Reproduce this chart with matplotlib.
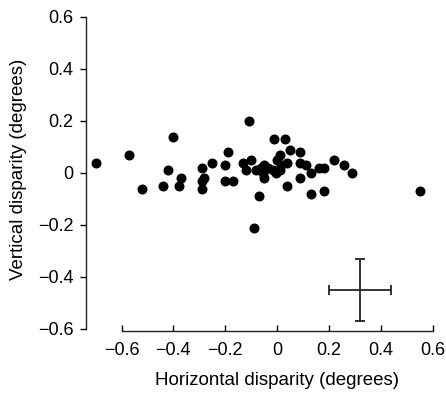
import matplotlib.pyplot as plt
import numpy as np

plt.rcParams['font.family'] = ['Liberation Sans', 'DejaVu Sans']

# disparity of each point (degrees)
horiz = [-0.70, -0.57, -0.52, -0.40, -0.44, -0.42, -0.37, -0.38, -0.29, -0.28,
         -0.29, -0.29, -0.25, -0.20, -0.19, -0.20, -0.17, -0.11, -0.13, -0.10,
         -0.12, -0.08, -0.07, -0.09, -0.06, -0.05, -0.055, -0.05, -0.035, -0.016,
         -0.003, 0.01, 0.015, 0.00, 0.01, -0.01, 0.03, 0.05, 0.04, 0.04,
         0.09, 0.09, 0.11, 0.09, 0.13, 0.13, 0.16, 0.18, 0.18, 0.22,
         0.26, 0.29, 0.55]
vert = [0.04, 0.07, -0.06, 0.14, -0.05, 0.01, -0.02, -0.05, 0.02, -0.02,
        -0.03, -0.06, 0.04, 0.03, 0.08, -0.03, -0.03, 0.20, 0.04, 0.05,
        0.01, 0.01, -0.09, -0.21, 0.02, 0.03, 0.0, -0.02, 0.02, 0.01,
        0.0, 0.01, 0.03, 0.05, 0.07, 0.13, 0.13, 0.09, 0.04, -0.05,
        0.08, 0.04, 0.03, -0.02, 0.0, -0.08, 0.02, 0.02, -0.07, 0.05,
        0.03, 0.0, -0.07]

# representative error (cross in lower right)
err_x, err_y = 0.32, -0.45
err_h, err_v = 0.12, 0.12

ticks = [-0.6, -0.4, -0.2, 0, 0.2, 0.4, 0.6]
tick_labels = ['\u22120.6', '\u22120.4', '\u22120.2', '0', '0.2', '0.4', '0.6']

fig = plt.figure(figsize=(4.46, 3.97), dpi=100)
ax = fig.add_axes([86 / 446, 1 - 331 / 397, 352 / 446, (331 - 11.8) / 397])

ax.plot(horiz, vert, 'o', color='black', markersize=7.2, markeredgewidth=0)
ax.errorbar(err_x, err_y, xerr=err_h, yerr=err_v, fmt='none', ecolor='#222222',
            elinewidth=1.3, capsize=3.6, capthick=1.3)

ax.set_xlim(-0.737, 0.621)
ax.set_ylim(-0.608, 0.62)

for side in ['top', 'right']:
    ax.spines[side].set_visible(False)
ax.spines['left'].set_bounds(-0.6, 0.6)
ax.spines['bottom'].set_bounds(-0.6, 0.6)
for side in ['left', 'bottom']:
    ax.spines[side].set_linewidth(1.0)
    ax.spines[side].set_color('#222222')

ax.set_xticks(ticks)
ax.set_xticklabels(tick_labels)
ax.set_yticks(ticks)
ax.set_yticklabels(tick_labels)
ax.tick_params(axis='x', direction='in', length=4, width=1.0, pad=8, labelsize=13)
ax.tick_params(axis='y', direction='out', length=4, width=1.0, pad=5, labelsize=13)

ax.set_xlabel('Horizontal disparity (degrees)', fontsize=13.5)
ax.set_ylabel('Vertical disparity (degrees)', fontsize=13.5, labelpad=8)
# centre the labels on the bounded spines
ax.xaxis.set_label_coords(0.544, -0.127)
ax.yaxis.get_label().set_y(0.505)

plt.savefig('out.png', dpi=100)
